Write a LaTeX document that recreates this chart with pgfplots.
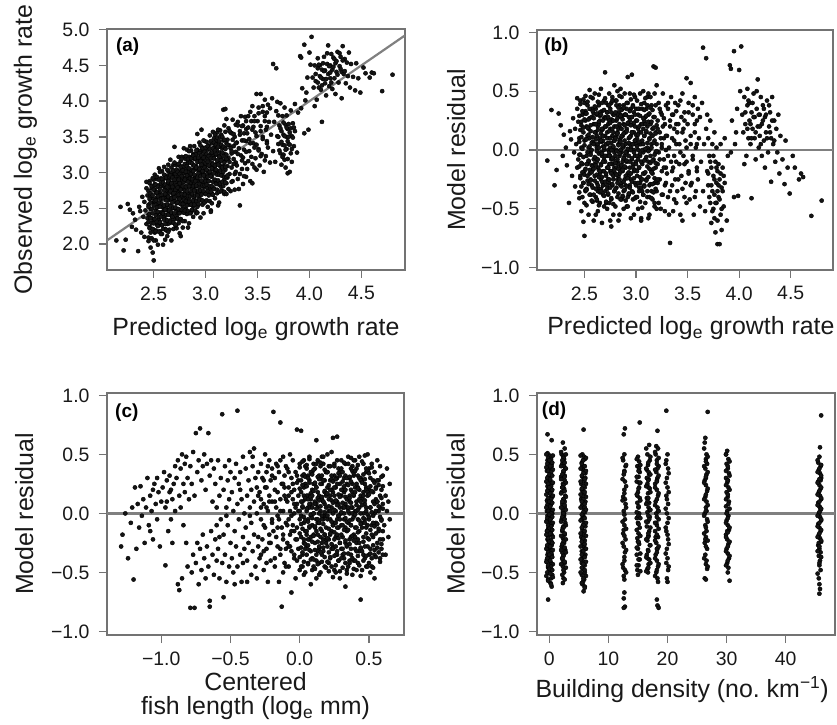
\documentclass[border=0pt]{standalone}
\usepackage{fontspec}
\setmainfont{Liberation Sans}
\usepackage{pgfplots}
\usepackage{pgfplotstable}
\pgfplotsset{compat=1.18}
\definecolor{frame}{gray}{0.45}
\definecolor{fitc}{gray}{0.5}
\definecolor{dot}{gray}{0.08}
\tikzset{tag/.style={anchor=north west, inner sep=0pt, font=\bfseries\fontsize{19}{19}\selectfont}}
\pgfplotsset{
 panel/.style={
  scale only axis,
  axis line style={draw=frame, line width=1.3bp},
  tick style={draw=frame, line width=1.3bp},
  tick align=outside, major tick length=8bp,
  tick pos=left,
  xticklabel shift=5bp, yticklabel shift=6bp,
  ticklabel style={font=\fontsize{19.5}{20}\selectfont, text=black!90},
  label style={font=\fontsize{25}{24}\selectfont, inner sep=0pt, text=black!90},
  xlabel style={at={(axis description cs:0.5,-0.27)}, anchor=base},
  ylabel style={at={(axis description cs:-0.25,0.5)}, anchor=base},
 },
 pts/.style={only marks, mark=*, mark size=2.1bp, mark options={draw=none, fill=dot}},
 zline/.style={fitc, line width=2.2bp},
}
\pgfplotstableread{
p r
2.14 -0.09
2.18 0.34
2.21 -0.30
2.23 -0.17
2.25 0.31
2.27 0.21
2.29 -0.05
2.30 0.13
2.32 0.02
2.33 -0.13
2.35 -0.45
2.36 0.16
2.37 0.09
2.38 -0.22
2.39 0.27
2.40 -0.02
2.41 0.18
2.41 -0.31
2.42 0.05
2.43 -0.15
2.43 0.35
2.44 -0.08
2.44 0.24
2.45 0.10
2.45 -0.41
2.46 -0.22
2.46 0.42
2.47 0.02
2.47 -0.52
2.48 0.30
2.48 -0.12
2.49 0.15
2.49 -0.28
2.45 -0.04
2.47 0.21
2.43 0.44
2.49 -0.61
2.50 -0.73
2.50 0.08
2.50 -0.18
2.51 0.33
2.51 -0.35
2.51 0.46
2.52 -0.05
2.52 0.20
2.52 -0.47
2.53 0.12
2.53 -0.26
2.53 0.38
2.54 -0.10
2.54 0.02
2.54 -0.55
2.55 0.27
2.55 -0.20
2.55 0.51
2.56 -0.02
2.56 -0.38
2.56 0.16
2.57 0.35
2.57 -0.13
2.57 -0.30
2.58 0.07
2.58 0.44
2.58 -0.44
2.59 -0.08
2.59 0.22
2.59 -0.60
2.55 0.10
2.53 -0.12
2.57 0.00
2.51 0.25
2.59 0.31
2.56 -0.25
2.52 -0.33
2.58 -0.17
2.54 0.18
2.50 0.40
2.60 0.05
2.60 -0.22
2.60 0.48
2.61 -0.40
2.61 0.15
2.61 -0.07
2.62 0.30
2.62 -0.28
2.62 0.02
2.63 -0.52
2.63 0.20
2.63 -0.15
2.64 0.38
2.64 -0.03
2.64 -0.33
2.65 0.10
2.65 -0.45
2.65 0.25
2.66 -0.12
2.66 0.52
2.66 -0.25
2.67 0.07
2.67 -0.62
2.67 0.33
2.68 -0.18
2.68 0.18
2.68 -0.38
2.69 0.00
2.69 0.42
2.69 -0.08
2.62 0.12
2.64 0.22
2.66 -0.02
2.68 -0.30
2.60 -0.12
2.63 0.05
2.65 -0.20
2.67 -0.05
2.69 0.27
2.61 0.35
2.62 -0.43
2.64 -0.17
2.66 0.14
2.68 0.08
2.60 0.22
2.63 -0.35
2.65 0.32
2.67 -0.27
2.69 -0.48
2.61 -0.55
2.64 0.47
2.66 -0.33
2.68 0.03
2.62 -0.10
2.67 0.17
2.70 0.66
2.70 -0.10
2.70 0.28
2.70 -0.35
2.71 0.05
2.71 -0.22
2.71 0.40
2.72 -0.05
2.72 0.15
2.72 -0.50
2.72 0.32
2.73 -0.15
2.73 0.00
2.73 -0.38
2.73 0.22
2.74 0.10
2.74 -0.28
2.74 0.48
2.74 -0.02
2.75 -0.60
2.75 0.18
2.75 -0.18
2.75 0.35
2.76 -0.08
2.76 0.06
2.76 -0.42
2.76 0.26
2.77 -0.30
2.77 0.12
2.77 -0.12
2.77 0.45
2.78 0.02
2.78 -0.25
2.78 0.30
2.78 -0.55
2.79 -0.02
2.79 0.20
2.79 -0.35
2.79 0.55
2.71 -0.45
2.72 -0.30
2.73 0.38
2.74 -0.12
2.75 0.02
2.76 0.40
2.77 -0.20
2.78 0.15
2.79 -0.15
2.70 0.12
2.71 0.20
2.72 0.05
2.73 -0.25
2.74 -0.45
2.75 -0.05
2.76 -0.18
2.77 0.25
2.78 -0.08
2.79 0.08
2.74 0.25
2.76 -0.65
2.80 0.10
2.80 -0.20
2.80 0.42
2.80 -0.48
2.81 0.00
2.81 0.25
2.81 -0.32
2.82 0.15
2.82 -0.10
2.82 0.50
2.82 -0.40
2.83 0.05
2.83 0.32
2.83 -0.22
2.84 -0.05
2.84 0.20
2.84 -0.55
2.84 0.38
2.85 -0.15
2.85 0.10
2.85 -0.30
2.86 0.28
2.86 -0.02
2.86 0.45
2.86 -0.42
2.87 0.12
2.87 -0.18
2.87 0.35
2.88 -0.08
2.88 0.22
2.88 -0.35
2.88 0.03
2.89 -0.25
2.89 0.15
2.89 0.48
2.81 0.12
2.82 -0.25
2.83 -0.12
2.84 0.08
2.85 0.30
2.86 -0.28
2.87 0.02
2.88 -0.50
2.89 -0.05
2.80 -0.05
2.81 -0.15
2.83 0.18
2.85 0.00
2.87 -0.40
2.89 0.30
2.82 0.30
2.84 -0.20
2.86 0.18
2.88 0.38
2.83 -0.60
2.85 0.52
2.87 -0.10
2.81 0.38
2.90 0.05
2.90 -0.30
2.90 0.30
2.91 -0.10
2.91 0.18
2.91 -0.48
2.92 0.62
2.92 0.00
2.92 -0.20
2.92 0.40
2.93 0.10
2.93 -0.38
2.93 -0.05
2.94 0.25
2.94 -0.15
2.94 0.48
2.95 -0.58
2.95 0.02
2.95 0.35
2.95 -0.25
2.96 0.15
2.96 -0.08
2.96 0.64
2.97 -0.42
2.97 0.22
2.97 0.05
2.98 -0.18
2.98 0.32
2.98 -0.55
2.99 0.08
2.99 -0.28
2.99 0.45
2.90 -0.15
2.91 0.35
2.93 0.22
2.94 -0.30
2.95 0.12
2.96 -0.35
2.97 -0.12
2.98 0.00
2.99 0.20
2.90 0.15
2.92 -0.40
2.94 0.05
2.96 0.28
2.98 0.15
2.91 -0.02
2.93 -0.22
2.97 0.38
2.99 -0.05
3.00 -0.10
3.00 0.25
3.00 -0.40
3.01 0.10
3.01 -0.22
3.01 0.42
3.02 0.00
3.02 -0.50
3.02 0.30
3.03 -0.15
3.03 0.15
3.03 -0.32
3.04 0.48
3.04 0.05
3.04 -0.05
3.05 -0.58
3.05 0.22
3.05 -0.25
3.06 0.35
3.06 -0.12
3.06 0.08
3.07 -0.38
3.07 0.18
3.07 -0.02
3.08 0.40
3.08 -0.20
3.08 0.12
3.09 -0.45
3.09 0.28
3.09 -0.08
3.00 0.05
3.02 0.18
3.04 -0.28
3.06 -0.35
3.08 -0.30
3.01 -0.05
3.03 0.35
3.05 0.05
3.07 0.50
3.09 0.00
3.05 -0.60
3.08 0.25
3.10 0.15
3.10 -0.25
3.11 0.02
3.11 0.45
3.11 -0.40
3.12 -0.10
3.12 0.30
3.13 0.10
3.13 -0.30
3.13 -0.55
3.14 0.22
3.14 -0.05
3.15 0.38
3.15 -0.18
3.15 0.05
3.16 -0.42
3.16 0.18
3.17 0.71
3.17 -0.08
3.17 0.28
3.18 -0.28
3.18 0.08
3.18 0.48
3.19 0.70
3.19 -0.15
3.19 0.15
3.10 0.35
3.12 -0.58
3.14 0.45
3.16 -0.20
3.18 -0.48
3.11 0.20
3.13 0.00
3.15 -0.35
3.19 -0.02
3.20 0.05
3.20 -0.35
3.21 0.25
3.21 -0.12
3.22 0.40
3.22 -0.02
3.23 -0.25
3.23 0.15
3.24 -0.50
3.24 0.32
3.25 0.02
3.25 -0.18
3.26 0.48
3.26 -0.38
3.27 0.10
3.27 -0.08
3.28 0.22
3.28 -0.30
3.29 0.00
3.29 0.38
3.20 0.55
3.22 -0.45
3.24 0.10
3.26 0.20
3.28 -0.52
3.21 -0.28
3.25 0.30
3.29 -0.15
3.30 0.12
3.30 -0.20
3.31 0.35
3.31 -0.40
3.32 0.02
3.33 -0.79
3.33 0.25
3.34 -0.10
3.34 0.45
3.35 -0.30
3.35 0.10
3.36 -0.52
3.36 0.30
3.37 -0.05
3.37 0.18
3.38 -0.25
3.38 0.40
3.39 0.05
3.39 -0.45
3.32 -0.55
3.36 -0.15
3.39 0.22
3.40 0.15
3.40 -0.35
3.41 0.38
3.42 -0.12
3.42 0.05
3.43 -0.55
3.44 0.28
3.44 -0.22
3.45 0.48
3.46 -0.05
3.46 0.18
3.47 -0.40
3.47 0.32
3.48 0.08
3.48 -0.28
3.49 0.61
3.49 -0.10
3.45 -0.60
3.50 0.22
3.51 -0.18
3.51 0.40
3.52 -0.42
3.53 0.05
3.53 0.57
3.54 -0.28
3.55 0.30
3.55 -0.05
3.56 -0.55
3.57 0.15
3.57 0.45
3.58 -0.35
3.58 0.02
3.59 0.25
3.59 -0.15
3.60 0.35
3.60 -0.25
3.61 0.10
3.62 -0.48
3.62 0.28
3.63 -0.10
3.64 0.40
3.65 0.87
3.65 -0.35
3.66 0.05
3.67 -0.52
3.68 0.78
3.68 0.18
3.69 -0.18
3.69 0.30
3.70 0.10
3.70 -0.30
3.71 -0.05
3.72 -0.45
3.72 0.25
3.73 -0.15
3.73 -0.62
3.74 0.05
3.74 -0.35
3.75 -0.22
3.75 -0.50
3.76 0.15
3.76 -0.38
3.77 -0.10
3.77 -0.70
3.78 -0.28
3.78 -0.45
3.79 -0.80
3.79 -0.18
3.78 0.02
3.76 -0.58
3.79 -0.35
3.80 -0.40
3.80 -0.12
3.81 -0.80
3.81 -0.25
3.82 -0.55
3.82 0.05
3.83 -0.32
3.83 -0.68
3.84 -0.15
3.85 -0.48
3.86 0.10
3.86 -0.28
3.88 -0.60
3.89 -0.05
3.91 0.72
3.92 0.69
3.95 0.84
3.93 0.25
3.92 -0.02
3.95 -0.40
3.97 0.15
3.99 -0.39
3.98 0.35
3.96 0.05
4.02 0.88
4.00 0.68
4.01 0.50
4.03 0.30
4.04 0.15
4.05 0.45
4.06 0.22
4.07 -0.05
4.08 0.38
4.09 0.10
4.05 -0.12
4.08 0.52
4.10 0.25
4.10 0.40
4.11 0.05
4.12 0.32
4.12 -0.41
4.13 0.18
4.14 0.48
4.15 0.10
4.15 0.28
4.16 -0.08
4.17 0.35
4.18 0.20
4.18 0.60
4.19 0.02
4.20 0.30
4.20 0.12
4.21 0.45
4.22 -0.05
4.22 0.22
4.23 0.38
4.24 0.08
4.25 -0.15
4.25 0.28
4.26 0.15
4.27 0.42
4.28 -0.02
4.29 0.20
4.31 -0.27
4.30 0.32
4.31 0.10
4.32 0.45
4.33 0.05
4.34 0.25
4.35 -0.10
4.36 0.18
4.37 -0.02
4.38 0.30
4.39 -0.20
4.40 0.12
4.42 -0.08
4.44 -0.29
4.45 0.08
4.47 -0.15
4.49 -0.37
4.52 -0.05
4.54 -0.15
4.58 -0.25
4.60 -0.20
4.62 -0.23
4.70 -0.56
4.80 -0.43
2.45 -0.36
2.45 -0.14
2.45 0.07
2.45 0.29
2.46 -0.24
2.46 -0.04
2.46 0.17
2.46 0.39
2.47 -0.31
2.47 -0.11
2.47 0.11
2.47 0.24
2.48 -0.40
2.48 -0.19
2.48 0.01
2.48 0.33
2.49 -0.28
2.49 -0.06
2.49 0.19
2.49 0.43
2.50 -0.21
2.50 0.04
2.50 0.26
2.50 -0.45
2.51 -0.34
2.51 -0.16
2.51 0.09
2.51 0.31
2.52 -0.34
2.52 -0.12
2.52 0.09
2.52 0.31
2.53 -0.22
2.53 -0.02
2.53 0.19
2.53 0.41
2.54 -0.29
2.54 -0.09
2.54 0.13
2.54 0.26
2.55 -0.38
2.55 -0.17
2.55 0.03
2.55 0.35
2.56 -0.26
2.56 -0.04
2.56 0.21
2.56 0.45
2.57 -0.19
2.57 0.06
2.57 0.28
2.57 -0.43
2.58 -0.32
2.58 -0.14
2.58 0.11
2.58 0.33
2.59 -0.38
2.59 -0.16
2.59 0.05
2.59 0.27
2.60 -0.26
2.60 -0.06
2.60 0.15
2.60 0.37
2.61 -0.33
2.61 -0.13
2.61 0.09
2.61 0.22
2.62 -0.42
2.62 -0.21
2.62 -0.01
2.62 0.31
2.63 -0.30
2.63 -0.08
2.63 0.17
2.63 0.41
2.64 -0.23
2.64 0.02
2.64 0.24
2.64 -0.47
2.65 -0.36
2.65 -0.18
2.65 0.07
2.65 0.29
2.66 -0.35
2.66 -0.13
2.66 0.08
2.66 0.30
2.67 -0.23
2.67 -0.03
2.67 0.18
2.67 0.40
2.68 -0.30
2.68 -0.10
2.68 0.12
2.68 0.25
2.69 -0.39
2.69 -0.18
2.69 0.02
2.69 0.34
2.70 -0.27
2.70 -0.05
2.70 0.20
2.70 0.44
2.71 -0.20
2.71 0.05
2.71 0.27
2.71 -0.44
2.72 -0.33
2.72 -0.15
2.72 0.10
2.72 0.32
2.73 -0.37
2.73 -0.15
2.73 0.06
2.73 0.28
2.74 -0.25
2.74 -0.05
2.74 0.16
2.74 0.38
2.75 -0.32
2.75 -0.12
2.75 0.10
2.75 0.23
2.76 -0.41
2.76 -0.20
2.76 0.00
2.76 0.32
2.77 -0.29
2.77 -0.07
2.77 0.18
2.77 0.42
2.78 -0.22
2.78 0.03
2.78 0.25
2.78 -0.46
2.79 -0.35
2.79 -0.17
2.79 0.08
2.79 0.30
2.80 -0.33
2.80 -0.11
2.80 0.10
2.80 0.32
2.81 -0.21
2.81 -0.01
2.81 0.20
2.81 0.42
2.82 -0.28
2.82 -0.08
2.82 0.14
2.82 0.27
2.83 -0.37
2.83 -0.16
2.83 0.04
2.83 0.36
2.84 -0.25
2.84 -0.03
2.84 0.22
2.84 0.46
2.85 -0.18
2.85 0.07
2.85 0.29
2.85 -0.42
2.86 -0.31
2.86 -0.13
2.86 0.12
2.86 0.34
2.87 -0.39
2.87 -0.17
2.87 0.04
2.87 0.26
2.88 -0.27
2.88 -0.07
2.88 0.14
2.88 0.36
2.89 -0.34
2.89 -0.14
2.89 0.08
2.89 0.21
2.90 -0.43
2.90 -0.22
2.90 -0.02
2.90 0.30
2.91 -0.31
2.91 -0.09
2.91 0.16
2.91 0.40
2.92 -0.24
2.92 0.01
2.92 0.23
2.92 -0.48
2.93 -0.37
2.93 -0.19
2.93 0.06
2.93 0.28
2.94 -0.32
2.94 -0.10
2.94 0.11
2.94 0.33
2.95 -0.20
2.95 0.00
2.95 0.21
2.95 0.43
2.96 -0.27
2.96 -0.07
2.96 0.15
2.96 0.28
2.97 -0.36
2.97 -0.15
2.97 0.05
2.97 0.37
2.98 -0.24
2.98 -0.02
2.98 0.23
2.98 0.47
2.99 -0.17
2.99 0.08
2.99 0.30
2.99 -0.41
3.00 -0.30
3.00 -0.12
3.00 0.13
3.00 0.35
3.01 -0.40
3.01 -0.18
3.01 0.03
3.01 0.25
3.02 -0.28
3.02 -0.08
3.02 0.13
3.02 0.35
3.03 -0.35
3.03 -0.15
3.03 0.07
3.03 0.20
3.04 -0.44
3.04 -0.23
3.04 -0.03
3.04 0.29
3.05 -0.32
3.05 -0.10
3.05 0.15
3.05 0.39
3.06 -0.25
3.06 0.00
3.06 0.22
3.06 -0.49
3.07 -0.38
3.07 -0.20
3.07 0.05
3.07 0.27
3.08 -0.31
3.08 -0.09
3.08 0.12
3.08 0.34
3.09 -0.19
3.09 0.01
3.09 0.22
3.09 0.44
3.10 -0.26
3.10 -0.06
3.10 0.16
3.10 0.29
3.11 -0.35
3.11 -0.14
3.11 0.06
3.11 0.38
3.12 -0.23
3.12 -0.01
3.12 0.24
3.12 0.48
3.13 -0.16
3.13 0.09
3.13 0.31
3.13 -0.40
3.14 -0.29
3.14 -0.11
3.14 0.14
3.14 0.36
3.15 -0.41
3.15 -0.19
3.15 0.02
3.15 0.24
3.16 -0.29
3.16 -0.09
3.16 0.12
3.16 0.34
3.17 -0.36
3.17 -0.16
3.17 0.06
3.17 0.19
3.18 -0.45
3.18 -0.24
3.18 -0.04
3.18 0.28
3.19 -0.33
3.19 -0.11
3.19 0.14
3.19 0.38
3.20 -0.26
3.20 -0.01
3.20 0.21
3.20 -0.50
3.21 -0.25
3.21 0.18
3.23 -0.08
3.23 0.35
3.25 -0.38
3.25 0.05
3.27 -0.15
3.27 0.27
3.29 -0.28
3.29 0.12
3.31 -0.05
3.31 0.40
3.33 -0.35
3.33 0.20
3.35 -0.18
3.35 0.30
3.37 -0.42
3.37 0.08
3.39 -0.10
3.39 0.33
3.41 -0.25
3.41 0.22
3.43 -0.02
3.43 0.42
3.45 -0.33
3.45 0.15
3.47 -0.12
3.47 0.25
3.49 -0.45
3.49 0.02
3.51 -0.20
3.51 0.32
3.53 -0.30
3.53 0.12
3.55 -0.08
3.55 0.38
3.57 -0.40
3.57 0.22
3.59 -0.18
3.59 0.05
3.70 -0.20
3.71 -0.40
3.72 -0.10
3.73 -0.30
3.74 -0.52
3.75 -0.05
3.76 -0.25
3.77 -0.45
3.78 -0.15
3.79 -0.60
3.80 -0.30
3.81 -0.42
3.82 -0.20
3.83 -0.50
3.84 -0.35
3.85 -0.22
4.06 0.32
4.08 0.18
4.09 0.42
4.11 0.22
4.12 0.10
4.13 0.40
4.14 0.28
4.16 0.15
4.17 0.50
4.19 0.30
4.20 0.20
4.21 0.05
4.23 0.25
4.24 0.35
4.26 0.30
4.27 0.10
4.29 0.38
4.30 0.15
4.32 0.25
4.34 0.08
}\pr
\pgfplotstableread{
L r
-1.29 -0.28
-1.28 -0.18
-1.26 0.00
-1.24 -0.38
-1.22 -0.08
-1.21 0.05
-1.20 -0.56
-1.19 0.22
-1.18 -0.30
-1.17 0.08
-1.16 -0.12
-1.15 0.23
-1.14 -0.02
-1.13 0.12
-1.12 -0.25
-1.11 0.05
-1.10 0.30
-1.09 -0.10
-1.08 0.15
-1.07 0.02
-1.06 -0.22
-1.05 0.25
-1.04 0.08
-1.03 -0.05
-1.02 0.18
-1.01 -0.28
-1.00 0.10
-1.06 0.20
-1.03 0.30
-1.08 -0.15
-0.99 0.22
-0.98 0.35
-0.97 -0.44
-0.97 0.05
-0.96 0.28
-0.95 -0.15
-0.94 0.18
-0.94 0.32
-0.93 -0.05
-0.92 0.12
-0.92 -0.25
-0.91 0.25
-0.90 0.02
-0.90 0.40
-0.96 0.10
-0.93 0.20
-0.89 0.30
-0.88 0.45
-0.88 -0.60
-0.87 0.15
-0.87 -0.65
-0.86 0.38
-0.86 0.05
-0.85 0.50
-0.85 -0.55
-0.84 0.25
-0.84 -0.10
-0.83 0.42
-0.83 0.18
-0.82 0.48
-0.82 -0.25
-0.81 0.30
-0.81 -0.45
-0.80 0.12
-0.79 -0.80
-0.79 0.40
-0.78 -0.50
-0.78 0.25
-0.77 0.52
-0.77 -0.35
-0.76 -0.80
-0.76 0.15
-0.75 0.68
-0.75 -0.42
-0.74 0.35
-0.74 -0.25
-0.73 0.45
-0.73 -0.60
-0.72 0.72
-0.72 -0.30
-0.71 0.28
-0.71 -0.48
-0.70 0.40
-0.70 -0.18
-0.69 0.50
-0.69 -0.38
-0.68 0.20
-0.68 -0.55
-0.67 0.42
-0.67 -0.28
-0.66 0.68
-0.66 -0.45
-0.65 -0.79
-0.65 -0.74
-0.65 0.32
-0.64 -0.15
-0.64 0.45
-0.63 -0.35
-0.63 0.10
-0.62 -0.52
-0.62 0.38
-0.61 -0.22
-0.61 0.25
-0.60 -0.40
-0.60 0.05
-0.60 -0.10
-0.59 0.45
-0.59 -0.30
-0.58 0.15
-0.58 -0.55
-0.57 -0.05
-0.57 0.30
-0.56 0.84
-0.56 -0.42
-0.55 -0.71
-0.55 0.20
-0.55 -0.18
-0.54 0.40
-0.54 -0.35
-0.53 0.05
-0.53 -0.58
-0.52 0.28
-0.52 -0.10
-0.51 -0.45
-0.51 0.12
-0.50 0.35
-0.50 -0.25
-0.58 -0.20
-0.53 -0.02
-0.51 0.45
-0.49 -0.38
-0.49 0.18
-0.48 0.02
-0.48 -0.50
-0.47 0.30
-0.47 -0.15
-0.46 0.42
-0.46 -0.28
-0.45 0.87
-0.45 0.08
-0.45 -0.45
-0.44 0.25
-0.44 -0.05
-0.43 -0.35
-0.43 0.35
-0.42 0.12
-0.42 -0.58
-0.41 -0.20
-0.41 0.48
-0.40 0.00
-0.40 -0.30
-0.47 -0.60
-0.43 0.20
-0.41 -0.42
-0.39 0.38
-0.39 -0.12
-0.38 0.15
-0.38 -0.40
-0.37 0.28
-0.37 -0.25
-0.36 0.05
-0.36 0.52
-0.35 -0.52
-0.35 0.20
-0.35 -0.08
-0.34 0.40
-0.34 -0.32
-0.33 0.10
-0.33 0.55
-0.33 -0.18
-0.32 0.30
-0.32 -0.45
-0.31 0.00
-0.31 0.22
-0.30 -0.28
-0.30 0.35
-0.38 -0.58
-0.36 -0.02
-0.34 0.48
-0.31 -0.55
-0.29 0.18
-0.29 -0.38
-0.28 0.42
-0.28 -0.05
-0.27 0.30
-0.27 -0.22
-0.26 0.08
-0.26 -0.48
-0.25 0.50
-0.25 -0.12
-0.25 0.22
-0.24 -0.30
-0.24 0.35
-0.23 0.02
-0.23 -0.58
-0.22 0.15
-0.22 -0.18
-0.22 0.45
-0.21 -0.40
-0.21 0.28
-0.20 -0.08
-0.20 0.38
-0.28 0.12
-0.26 -0.32
-0.24 0.05
-0.23 0.40
-0.21 -0.25
-0.20 0.10
-0.19 0.86
-0.19 -0.15
-0.18 0.30
-0.18 -0.45
-0.17 0.05
-0.17 0.42
-0.16 -0.28
-0.16 0.18
-0.15 -0.05
-0.15 -0.58
-0.15 0.35
-0.14 0.77
-0.14 0.12
-0.14 -0.35
-0.13 -0.79
-0.13 0.25
-0.13 -0.12
-0.12 0.48
-0.12 -0.22
-0.12 0.02
-0.11 0.32
-0.11 -0.42
-0.11 0.15
-0.10 -0.08
-0.10 0.40
-0.10 -0.30
-0.18 0.10
-0.16 -0.02
-0.14 0.45
-0.12 -0.50
-0.17 -0.20
-0.11 0.22
-0.09 0.10
-0.09 -0.25
-0.09 0.38
-0.08 -0.05
-0.08 0.22
-0.08 -0.45
-0.07 0.50
-0.07 0.02
-0.07 -0.18
-0.06 -0.67
-0.06 0.30
-0.06 -0.32
-0.05 0.12
-0.05 -0.10
-0.05 0.45
-0.04 -0.38
-0.04 0.20
-0.04 0.00
-0.03 -0.22
-0.03 0.35
-0.03 -0.55
-0.02 0.71
-0.02 0.08
-0.02 -0.12
-0.01 0.28
-0.01 -0.30
-0.01 0.15
0.00 -0.05
0.00 0.42
0.00 -0.48
-0.08 0.15
-0.07 -0.28
-0.05 0.25
-0.04 -0.15
-0.03 0.05
-0.02 -0.40
-0.01 0.02
-0.09 -0.10
-0.06 -0.02
-0.02 0.32
0.01 0.70
0.01 0.18
0.01 -0.20
0.02 0.05
0.02 -0.35
0.02 0.32
0.03 -0.08
0.03 0.45
0.03 -0.52
0.04 0.12
0.04 -0.15
0.04 0.25
0.05 -0.28
0.05 0.02
0.05 0.38
0.06 -0.42
0.06 0.15
0.06 -0.05
0.07 0.28
0.07 -0.22
0.07 0.48
0.08 0.08
0.08 -0.32
0.08 -0.60
0.09 0.20
0.09 -0.10
0.09 0.35
0.10 -0.18
0.10 0.00
0.10 0.42
0.01 -0.02
0.02 -0.45
0.03 0.22
0.04 -0.30
0.05 0.15
0.06 0.32
0.07 -0.12
0.08 0.12
0.09 -0.38
0.10 0.25
0.02 0.10
0.04 0.40
0.05 -0.18
0.06 0.05
0.07 0.05
0.08 -0.02
0.09 0.05
0.03 -0.25
0.06 -0.22
0.10 -0.45
0.11 0.10
0.11 -0.25
0.11 0.38
0.12 0.62
0.12 -0.05
0.12 -0.40
0.12 0.22
0.13 0.05
0.13 -0.18
0.13 0.45
0.14 -0.30
0.14 0.15
0.14 -0.08
0.15 0.30
0.15 -0.50
0.15 0.02
0.16 -0.15
0.16 0.25
0.16 -0.35
0.17 0.10
0.17 0.42
0.17 -0.22
0.18 -0.02
0.18 0.18
0.18 -0.45
0.19 0.35
0.19 -0.12
0.19 0.05
0.20 -0.28
0.20 0.22
0.20 0.50
0.11 -0.12
0.12 0.08
0.13 -0.32
0.14 0.32
0.15 -0.20
0.16 0.12
0.17 -0.05
0.18 0.28
0.19 -0.25
0.20 -0.05
0.11 0.25
0.13 0.18
0.14 -0.42
0.15 0.40
0.16 -0.02
0.17 -0.32
0.18 0.08
0.19 0.15
0.20 0.35
0.12 -0.55
0.14 0.00
0.16 0.48
0.18 -0.18
0.13 -0.08
0.21 0.12
0.21 -0.22
0.21 0.40
0.22 -0.05
0.22 0.28
0.22 -0.38
0.23 0.05
0.23 -0.15
0.23 0.52
0.24 0.64
0.24 -0.28
0.24 0.18
0.25 -0.08
0.25 0.32
0.25 -0.48
0.26 0.02
0.26 0.22
0.26 -0.20
0.27 0.65
0.27 -0.35
0.27 0.10
0.28 -0.12
0.28 0.38
0.28 -0.02
0.29 0.25
0.29 -0.25
0.29 -0.55
0.30 0.15
0.30 -0.10
0.30 0.45
0.21 0.02
0.22 0.15
0.23 -0.30
0.24 0.00
0.25 0.15
0.26 -0.35
0.27 0.30
0.28 0.08
0.29 0.05
0.30 -0.30
0.21 -0.42
0.22 -0.18
0.23 0.32
0.24 -0.10
0.25 0.42
0.26 0.10
0.27 -0.05
0.28 -0.40
0.29 0.35
0.30 0.00
0.23 0.20
0.25 -0.22
0.27 -0.18
0.29 0.15
0.26 -0.50
0.31 0.05
0.31 -0.20
0.31 0.35
0.32 -0.38
0.32 0.18
0.32 -0.05
0.33 -0.62
0.33 0.42
0.33 0.08
0.34 -0.15
0.34 0.25
0.34 -0.28
0.35 0.12
0.35 -0.45
0.35 0.48
0.36 0.00
0.36 -0.22
0.36 0.30
0.37 -0.10
0.37 0.20
0.37 -0.35
0.38 0.40
0.38 0.05
0.38 -0.52
0.39 -0.18
0.39 0.15
0.39 0.32
0.40 -0.30
0.40 0.02
0.40 0.45
0.31 0.20
0.32 0.30
0.33 -0.25
0.34 0.05
0.35 -0.08
0.36 0.15
0.37 0.38
0.38 -0.05
0.39 -0.40
0.40 0.22
0.31 -0.35
0.32 0.00
0.33 0.20
0.34 -0.48
0.35 0.30
0.36 -0.40
0.37 0.05
0.38 0.25
0.39 0.00
0.40 -0.12
0.33 -0.12
0.35 0.02
0.37 -0.20
0.39 0.45
0.36 0.10
0.41 0.10
0.41 -0.25
0.41 0.38
0.42 -0.05
0.42 0.22
0.42 -0.42
0.43 0.05
0.43 -0.15
0.43 0.48
0.44 -0.73
0.44 0.30
0.44 -0.30
0.45 0.12
0.45 -0.08
0.45 -0.48
0.46 0.42
0.46 0.00
0.46 -0.20
0.47 0.25
0.47 -0.38
0.47 0.08
0.48 -0.12
0.48 0.35
0.48 -0.45
0.49 0.15
0.49 -0.28
0.49 0.50
0.50 -0.05
0.50 0.20
0.50 -0.35
0.41 0.02
0.42 0.32
0.43 -0.32
0.44 0.15
0.45 0.28
0.46 -0.35
0.47 -0.05
0.48 0.05
0.49 -0.10
0.50 0.38
0.42 -0.22
0.44 0.00
0.46 0.18
0.48 0.22
0.43 0.20
0.51 0.05
0.51 -0.30
0.51 0.30
0.52 -0.10
0.52 0.42
0.52 -0.45
0.53 0.18
0.53 -0.20
0.54 0.00
0.54 0.35
0.54 -0.35
0.55 -0.08
0.55 0.22
0.56 -0.25
0.56 0.10
0.56 0.45
0.57 -0.15
0.57 0.28
0.58 0.05
0.58 -0.38
0.59 0.20
0.59 -0.05
0.60 0.32
0.60 -0.22
0.53 -0.02
0.55 0.12
0.57 0.02
0.59 -0.30
0.58 0.40
0.60 0.08
0.61 -0.10
0.62 0.15
0.62 -0.35
0.63 0.38
0.63 0.02
0.64 -0.20
0.65 0.25
0.65 -0.05
0.64 0.10
0.00 -0.37
0.00 -0.17
0.00 0.02
0.00 0.21
0.00 0.39
0.01 -0.29
0.01 -0.09
0.01 0.10
0.01 0.28
0.01 -0.45
0.02 -0.33
0.02 -0.13
0.02 0.06
0.02 0.24
0.02 0.44
0.03 -0.41
0.03 -0.22
0.03 -0.03
0.03 0.15
0.03 0.33
0.04 -0.26
0.04 -0.06
0.04 0.13
0.04 0.31
0.04 -0.50
0.05 -0.35
0.05 -0.15
0.05 0.04
0.05 0.23
0.05 0.41
0.06 -0.27
0.06 -0.07
0.06 0.12
0.06 0.30
0.06 -0.43
0.07 -0.31
0.07 -0.11
0.07 0.08
0.07 0.26
0.07 0.46
0.08 -0.39
0.08 -0.20
0.08 -0.01
0.08 0.17
0.08 0.35
0.09 -0.24
0.09 -0.04
0.09 0.15
0.09 0.33
0.09 -0.48
0.10 -0.39
0.10 -0.19
0.10 0.00
0.10 0.19
0.10 0.37
0.11 -0.31
0.11 -0.11
0.11 0.08
0.11 0.26
0.11 -0.47
0.12 -0.35
0.12 -0.15
0.12 0.04
0.12 0.22
0.12 0.42
0.13 -0.43
0.13 -0.24
0.13 -0.05
0.13 0.13
0.13 0.31
0.14 -0.28
0.14 -0.08
0.14 0.11
0.14 0.29
0.14 -0.52
0.15 -0.33
0.15 -0.13
0.15 0.06
0.15 0.25
0.15 0.43
0.16 -0.25
0.16 -0.05
0.16 0.14
0.16 0.32
0.16 -0.41
0.17 -0.29
0.17 -0.09
0.17 0.10
0.17 0.28
0.17 0.48
0.18 -0.37
0.18 -0.18
0.18 0.01
0.18 0.19
0.18 0.37
0.19 -0.22
0.19 -0.02
0.19 0.17
0.19 0.35
0.19 -0.46
0.20 -0.41
0.20 -0.21
0.20 -0.02
0.20 0.17
0.20 0.35
0.21 -0.33
0.21 -0.13
0.21 0.06
0.21 0.24
0.21 -0.49
0.22 -0.37
0.22 -0.17
0.22 0.02
0.22 0.20
0.22 0.40
0.23 -0.45
0.23 -0.26
0.23 -0.07
0.23 0.11
0.23 0.29
0.24 -0.30
0.24 -0.10
0.24 0.09
0.24 0.27
0.24 -0.54
0.25 -0.36
0.25 -0.16
0.25 0.03
0.25 0.22
0.25 0.40
0.26 -0.28
0.26 -0.08
0.26 0.11
0.26 0.29
0.26 -0.44
0.27 -0.32
0.27 -0.12
0.27 0.07
0.27 0.25
0.27 0.45
0.28 -0.40
0.28 -0.21
0.28 -0.02
0.28 0.16
0.28 0.34
0.29 -0.25
0.29 -0.05
0.29 0.14
0.29 0.32
0.29 -0.49
0.30 -0.38
0.30 -0.18
0.30 0.01
0.30 0.20
0.30 0.38
0.31 -0.30
0.31 -0.10
0.31 0.09
0.31 0.27
0.31 -0.46
0.32 -0.34
0.32 -0.14
0.32 0.05
0.32 0.23
0.32 0.43
0.33 -0.42
0.33 -0.23
0.33 -0.04
0.33 0.14
0.33 0.32
0.34 -0.27
0.34 -0.07
0.34 0.12
0.34 0.30
0.34 -0.51
0.35 -0.34
0.35 -0.14
0.35 0.05
0.35 0.24
0.35 0.42
0.36 -0.26
0.36 -0.06
0.36 0.13
0.36 0.31
0.36 -0.42
0.37 -0.30
0.37 -0.10
0.37 0.09
0.37 0.27
0.37 0.47
0.38 -0.38
0.38 -0.19
0.38 0.00
0.38 0.18
0.38 0.36
0.39 -0.23
0.39 -0.03
0.39 0.16
0.39 0.34
0.39 -0.47
0.40 -0.40
0.40 -0.20
0.40 -0.01
0.40 0.18
0.40 0.36
0.41 -0.32
0.41 -0.12
0.41 0.07
0.41 0.25
0.41 -0.48
0.42 -0.36
0.42 -0.16
0.42 0.03
0.42 0.21
0.42 0.41
0.43 -0.44
0.43 -0.25
0.43 -0.06
0.43 0.12
0.43 0.30
0.44 -0.29
0.44 -0.09
0.44 0.10
0.44 0.28
0.44 -0.53
0.45 -0.32
0.45 -0.12
0.45 0.07
0.45 0.26
0.45 0.44
0.46 -0.24
0.46 -0.04
0.46 0.15
0.46 0.33
0.46 -0.40
0.47 -0.28
0.47 -0.08
0.47 0.11
0.47 0.29
0.47 0.49
0.48 -0.36
0.48 -0.17
0.48 0.02
0.48 0.20
0.48 0.38
0.49 -0.21
0.49 -0.01
0.49 0.18
0.49 0.36
0.49 -0.45
0.50 -0.42
0.50 -0.22
0.50 -0.03
0.50 0.16
0.50 0.34
0.51 -0.34
0.51 -0.14
0.51 0.05
0.51 0.23
0.51 -0.50
0.52 -0.38
0.52 -0.18
0.52 0.01
0.52 0.19
0.52 0.39
0.53 -0.46
0.53 -0.27
0.53 -0.08
0.53 0.10
0.53 0.28
0.54 -0.31
0.54 -0.11
0.54 0.08
0.54 0.26
0.54 -0.55
0.55 -0.37
0.55 -0.17
0.55 0.02
0.55 0.21
0.56 -0.29
0.56 -0.09
0.56 0.10
0.56 0.28
0.57 -0.33
0.57 -0.13
0.57 0.06
0.57 0.24
0.58 -0.41
0.58 -0.22
0.58 -0.03
0.58 0.15
0.59 -0.26
0.59 -0.06
0.59 0.13
0.59 0.31
0.60 -0.35
0.60 -0.15
0.60 0.04
0.60 0.23
-0.30 -0.20
-0.30 0.15
-0.28 -0.35
-0.28 0.05
-0.26 -0.10
-0.26 0.28
-0.24 -0.42
-0.24 0.22
-0.22 -0.25
-0.22 0.10
-0.20 -0.05
-0.20 0.32
-0.18 -0.38
-0.18 0.20
-0.16 -0.12
-0.16 0.40
-0.14 -0.30
-0.14 0.02
-0.12 -0.18
-0.12 0.25
-0.10 -0.45
-0.10 0.12
-0.08 -0.28
-0.08 0.35
-0.06 -0.15
-0.06 0.18
-0.04 -0.35
-0.04 0.08
-0.02 -0.22
-0.02 0.26
}\lr
\pgfplotstableread{
b r
-0.3 0.51
0.2 0.47
-0.1 0.44
0.4 0.42
0.0 0.38
-0.4 0.36
0.3 0.33
-0.2 0.31
0.1 0.28
0.5 0.26
-0.3 0.23
0.2 0.21
-0.1 0.18
0.4 0.15
0.0 0.13
-0.4 0.11
0.3 0.08
-0.2 0.05
0.1 0.03
0.5 0.00
-0.3 -0.02
0.2 -0.05
-0.1 -0.07
0.4 -0.10
0.0 -0.12
-0.4 -0.15
0.3 -0.17
-0.2 -0.20
0.1 -0.23
0.5 -0.25
-0.3 -0.28
0.2 -0.30
-0.1 -0.33
0.4 -0.35
0.0 -0.38
-0.4 -0.41
0.3 -0.43
-0.2 -0.46
0.1 -0.49
0.5 -0.52
-0.2 -0.56
0.2 -0.59
0.4 -0.62
-0.3 0.67
0.4 0.62
-0.2 -0.73
0.1 0.49
-0.3 0.45
0.4 0.40
-0.1 0.37
0.2 0.34
0.0 0.30
-0.4 0.27
0.3 0.24
-0.2 0.20
0.1 0.17
0.5 0.14
-0.3 0.10
0.2 0.07
-0.1 0.04
0.4 0.01
0.0 -0.03
-0.4 -0.06
0.3 -0.09
-0.2 -0.13
0.1 -0.16
0.5 -0.19
-0.3 -0.22
0.2 -0.26
-0.1 -0.29
0.4 -0.32
0.0 -0.36
-0.4 -0.39
0.3 -0.42
-0.2 -0.45
0.1 -0.48
0.3 -0.55
0.0 0.48
0.3 0.43
-0.2 0.25
0.4 0.19
-0.4 0.02
0.2 -0.11
-0.1 -0.24
0.4 -0.27
0.0 -0.50
-0.3 -0.35
-0.5 0.50
0.6 0.49
-0.2 0.47
0.3 0.46
0.0 0.45
0.5 0.43
-0.35 0.42
0.15 0.40
-0.5 0.39
0.6 0.37
-0.2 0.36
0.3 0.35
0.0 0.33
0.5 0.32
-0.35 0.30
0.15 0.29
-0.5 0.27
0.6 0.26
-0.2 0.25
0.3 0.23
0.0 0.22
0.5 0.20
-0.35 0.19
0.15 0.17
-0.5 0.16
0.6 0.15
-0.2 0.13
0.3 0.12
0.0 0.10
0.5 0.09
-0.35 0.07
0.15 0.06
-0.5 0.05
0.6 0.03
-0.2 0.02
0.3 0.00
0.0 -0.01
0.5 -0.03
-0.35 -0.04
0.15 -0.05
-0.5 -0.07
0.6 -0.08
-0.2 -0.10
0.3 -0.11
0.0 -0.13
0.5 -0.14
-0.35 -0.15
0.15 -0.17
-0.5 -0.18
0.6 -0.20
-0.2 -0.21
0.3 -0.23
0.0 -0.24
0.5 -0.25
-0.35 -0.27
0.15 -0.28
-0.5 -0.30
0.6 -0.31
-0.2 -0.33
0.3 -0.34
0.0 -0.35
0.5 -0.37
-0.35 -0.38
0.15 -0.40
-0.5 -0.41
0.6 -0.43
-0.2 -0.44
0.3 -0.45
0.0 -0.47
0.5 -0.48
-0.35 -0.50
0.15 -0.51
-0.5 -0.53
0.6 -0.54
-0.2 -0.57
0.3 -0.60
2.3 0.60
2.6 0.55
2.1 0.50
2.5 0.46
2.2 0.42
2.7 0.38
2.4 0.35
2.0 0.31
2.6 0.28
2.3 0.25
2.5 0.21
2.1 0.18
2.7 0.15
2.4 0.12
2.2 0.08
2.6 0.05
2.3 0.02
2.5 -0.02
2.1 -0.05
2.7 -0.08
2.4 -0.11
2.2 -0.15
2.6 -0.18
2.3 -0.21
2.5 -0.25
2.1 -0.28
2.7 -0.31
2.4 -0.35
2.2 -0.38
2.6 -0.42
2.3 -0.45
2.5 -0.50
2.4 -0.55
2.3 -0.59
2.5 0.40
2.2 0.22
2.6 0.10
2.4 -0.01
2.3 -0.12
2.5 -0.23
2.2 -0.33
2.6 0.32
2.4 0.48
2.3 -0.40
2.5 0.00
2.0 0.52
2.8 0.50
2.4 0.47
2.2 0.45
2.6 0.43
2.0 0.40
2.8 0.38
2.4 0.36
2.2 0.33
2.6 0.31
2.0 0.29
2.8 0.26
2.4 0.24
2.2 0.22
2.6 0.19
2.0 0.17
2.8 0.14
2.4 0.12
2.2 0.10
2.6 0.07
2.0 0.05
2.8 0.03
2.4 0.00
2.2 -0.03
2.6 -0.05
2.0 -0.07
2.8 -0.10
2.4 -0.12
2.2 -0.14
2.6 -0.17
2.0 -0.19
2.8 -0.22
2.4 -0.24
2.2 -0.26
2.6 -0.29
2.0 -0.31
2.8 -0.33
2.4 -0.36
2.2 -0.38
2.6 -0.41
2.0 -0.43
2.8 -0.46
2.4 -0.48
2.2 -0.52
2.6 -0.56
5.8 0.71
5.6 0.50
6.0 0.46
5.5 0.43
5.9 0.40
5.7 0.37
6.1 0.34
5.6 0.31
5.8 0.28
5.4 0.25
6.0 0.22
5.7 0.19
5.9 0.16
5.5 0.13
6.1 0.10
5.6 0.07
5.8 0.04
6.0 0.01
5.7 -0.02
5.5 -0.05
5.9 -0.08
6.1 -0.11
5.6 -0.14
5.8 -0.17
5.4 -0.20
6.0 -0.23
5.7 -0.26
5.9 -0.29
5.5 -0.32
6.1 -0.35
5.6 -0.38
5.8 -0.41
6.0 -0.44
5.7 -0.47
5.5 -0.52
5.9 -0.56
5.6 -0.60
6.0 -0.62
5.8 -0.66
5.7 0.45
5.9 0.35
5.5 0.20
6.0 0.05
5.8 -0.03
5.6 -0.22
6.1 -0.30
5.7 -0.10
5.9 0.27
5.4 0.12
5.8 -0.36
6.0 -0.50
5.6 0.40
5.7 0.09
5.9 -0.18
5.5 -0.42
5.8 0.18
6.1 0.30
5.6 -0.05
5.7 -0.58
5.9 0.48
5.3 0.49
6.2 0.47
5.75 0.45
5.5 0.42
6.0 0.40
5.3 0.38
6.2 0.36
5.75 0.34
5.5 0.32
6.0 0.29
5.3 0.27
6.2 0.25
5.75 0.23
5.5 0.21
6.0 0.18
5.3 0.16
6.2 0.14
5.75 0.12
5.5 0.10
6.0 0.08
5.3 0.05
6.2 0.03
5.75 0.01
5.5 -0.01
6.0 -0.04
5.3 -0.06
6.2 -0.08
5.75 -0.10
5.5 -0.12
6.0 -0.15
5.3 -0.17
6.2 -0.19
5.75 -0.21
5.5 -0.24
6.0 -0.26
5.3 -0.28
6.2 -0.30
5.75 -0.32
5.5 -0.35
6.0 -0.37
5.3 -0.39
6.2 -0.41
5.75 -0.43
5.5 -0.46
6.0 -0.48
5.3 -0.50
6.2 -0.53
5.75 -0.55
5.5 -0.59
6.0 -0.63
12.8 0.72
12.6 0.67
12.7 0.50
12.5 0.45
12.9 0.40
12.6 0.33
12.8 0.27
12.7 0.20
12.5 0.14
12.9 0.08
12.6 0.02
12.8 -0.05
12.7 -0.10
12.5 -0.17
12.9 -0.22
12.6 -0.28
12.8 -0.33
12.7 -0.40
12.5 -0.46
12.6 -0.53
12.7 -0.67
12.6 -0.72
12.8 -0.79
12.6 -0.80
12.8 0.12
12.6 -0.14
12.7 0.36
12.8 -0.48
12.4 0.47
13.0 0.41
12.7 0.35
12.4 0.29
13.0 0.23
12.7 0.17
12.4 0.11
13.0 0.05
12.7 -0.01
12.4 -0.07
13.0 -0.13
12.7 -0.19
12.4 -0.25
13.0 -0.31
12.7 -0.37
12.4 -0.43
13.0 -0.50
12.7 -0.56
15.3 0.77
15.0 0.48
15.2 0.44
14.9 0.40
15.3 0.35
15.1 0.31
14.8 0.27
15.2 0.22
15.0 0.18
15.3 0.13
14.9 0.09
15.1 0.05
15.2 0.00
14.8 -0.04
15.0 -0.08
15.3 -0.12
15.1 -0.17
14.9 -0.21
15.2 -0.26
15.0 -0.30
14.8 -0.35
15.3 -0.39
15.1 -0.44
14.9 -0.48
15.0 -0.52
15.2 0.26
15.1 -0.02
14.9 0.15
15.0 -0.24
15.2 0.38
14.8 0.46
15.4 0.41
15.1 0.36
14.8 0.31
15.4 0.26
15.1 0.21
14.8 0.16
15.4 0.11
15.1 0.06
14.8 0.01
15.4 -0.04
15.1 -0.09
14.8 -0.14
15.4 -0.19
15.1 -0.24
14.8 -0.29
15.4 -0.34
15.1 -0.39
14.8 -0.44
15.4 -0.49
16.9 0.58
16.6 0.50
17.0 0.45
16.7 0.41
16.5 0.37
16.9 0.33
16.8 0.29
16.6 0.25
17.0 0.21
16.7 0.17
16.5 0.13
16.9 0.09
16.8 0.05
16.6 0.01
17.0 -0.03
16.7 -0.07
16.5 -0.11
16.9 -0.15
16.8 -0.19
16.6 -0.23
17.0 -0.27
16.7 -0.31
16.5 -0.35
16.9 -0.39
16.8 -0.43
16.6 -0.47
16.7 -0.50
16.8 0.35
16.6 0.10
16.9 -0.05
16.7 -0.20
16.8 0.22
16.6 -0.38
17.0 0.03
16.5 0.30
16.4 0.55
17.1 0.48
16.75 0.43
16.4 0.38
17.1 0.33
16.75 0.28
16.4 0.23
17.1 0.18
16.75 0.13
16.4 0.08
17.1 0.03
16.75 -0.02
16.4 -0.07
17.1 -0.12
16.75 -0.17
16.4 -0.22
17.1 -0.27
16.75 -0.32
16.4 -0.37
17.1 -0.42
16.75 -0.46
16.4 -0.49
18.3 0.70
18.1 0.57
18.4 0.55
18.0 0.50
18.2 0.45
18.5 0.40
18.1 0.35
18.3 0.30
17.9 0.25
18.2 0.20
18.4 0.15
18.0 0.10
18.3 0.05
18.1 0.00
18.5 -0.05
18.2 -0.10
17.9 -0.15
18.4 -0.20
18.1 -0.25
18.3 -0.30
18.0 -0.35
18.2 -0.40
18.4 -0.45
18.1 -0.50
18.3 -0.55
18.4 -0.58
18.2 -0.73
18.3 -0.78
18.5 -0.80
18.2 0.28
18.0 -0.20
18.4 0.02
18.1 -0.08
18.3 0.38
18.2 -0.30
17.9 0.52
18.5 0.47
18.2 0.42
17.9 0.37
18.5 0.32
18.2 0.27
17.9 0.22
18.5 0.17
18.2 0.12
17.9 0.07
18.5 0.02
18.2 -0.03
17.9 -0.08
18.5 -0.13
18.2 -0.18
17.9 -0.23
18.5 -0.28
18.2 -0.33
17.9 -0.38
18.5 -0.43
18.2 -0.48
17.9 -0.53
19.8 0.87
20.0 0.50
19.8 0.45
20.1 0.38
19.9 0.30
20.0 0.22
19.8 0.15
20.1 0.08
19.9 0.00
20.0 -0.08
19.8 -0.15
20.1 -0.22
19.9 -0.30
20.0 -0.38
19.8 -0.42
20.1 -0.48
19.9 -0.55
20.0 -0.58
19.9 0.12
20.0 -0.18
19.7 0.42
20.2 0.34
19.7 0.26
20.2 0.18
19.7 0.04
20.2 -0.04
19.7 -0.12
20.2 -0.26
19.7 -0.34
20.2 -0.45
26.8 0.86
26.4 0.64
26.3 0.60
26.6 0.50
26.5 0.46
26.7 0.42
26.4 0.38
26.6 0.33
26.3 0.28
26.5 0.24
26.7 0.19
26.4 0.14
26.6 0.10
26.5 0.05
26.3 0.00
26.7 -0.05
26.4 -0.10
26.6 -0.15
26.5 -0.20
26.3 -0.25
26.7 -0.30
26.4 -0.35
26.6 -0.40
26.5 -0.43
26.7 -0.47
26.3 -0.55
26.5 -0.56
26.6 0.02
26.4 -0.22
26.5 0.30
26.2 0.55
26.8 0.48
26.5 0.44
26.2 0.40
26.8 0.35
26.5 0.31
26.2 0.26
26.8 0.21
26.5 0.16
26.2 0.12
26.8 0.07
26.5 0.02
26.2 -0.02
26.8 -0.07
26.5 -0.12
26.2 -0.17
26.8 -0.23
26.5 -0.28
26.2 -0.38
26.8 -0.45
30.1 0.53
29.9 0.50
30.3 0.46
30.0 0.42
30.2 0.38
30.4 0.34
29.9 0.30
30.1 0.26
30.3 0.22
30.0 0.18
30.2 0.14
30.4 0.10
29.9 0.06
30.1 0.02
30.3 -0.02
30.0 -0.06
30.2 -0.10
30.4 -0.14
29.9 -0.18
30.1 -0.22
30.3 -0.26
30.0 -0.30
30.2 -0.34
30.4 -0.38
30.1 -0.42
30.3 -0.46
30.2 -0.50
30.5 -0.57
30.0 0.00
30.2 0.28
30.1 -0.15
30.3 0.08
29.9 0.50
30.5 0.44
30.2 0.40
29.9 0.36
30.5 0.32
30.2 0.28
29.9 0.24
30.5 0.20
30.2 0.16
29.9 0.12
30.5 0.04
30.2 -0.04
29.9 -0.08
30.5 -0.12
30.2 -0.16
29.9 -0.20
30.5 -0.24
30.2 -0.28
29.9 -0.32
30.5 -0.36
30.2 -0.40
29.9 -0.44
46.0 0.83
45.8 0.56
45.7 0.48
45.5 0.43
45.9 0.40
45.6 0.37
45.8 0.34
46.0 0.30
45.5 0.27
45.7 0.24
45.9 0.21
45.6 0.18
45.8 0.15
46.0 0.12
45.5 0.09
45.7 0.06
45.9 0.03
45.6 0.00
45.8 -0.03
46.0 -0.06
45.5 -0.09
45.7 -0.12
45.9 -0.15
45.6 -0.18
45.8 -0.21
46.0 -0.24
45.5 -0.27
45.7 -0.30
45.9 -0.33
45.6 -0.36
45.8 -0.40
45.7 -0.44
45.9 -0.48
45.6 -0.55
45.7 -0.60
45.8 -0.64
45.7 -0.68
45.8 0.05
45.6 -0.25
45.9 0.28
45.4 0.45
46.0 0.41
45.7 0.38
45.4 0.35
46.0 0.32
45.7 0.29
45.4 0.26
46.0 0.22
45.7 0.19
45.4 0.16
46.0 0.13
45.7 0.10
45.4 0.07
46.0 0.04
45.7 0.01
45.4 -0.02
46.0 -0.05
45.7 -0.08
45.4 -0.11
46.0 -0.14
45.7 -0.17
45.4 -0.20
46.0 -0.23
45.7 -0.28
45.4 -0.32
46.0 -0.37
45.7 -0.42
45.4 -0.51
}\br
\begin{document}
\begin{tikzpicture}
\useasboundingbox (0,0) rectangle (837bp,725bp);
% (a)
\begin{axis}[panel, at={(107bp,455bp)}, anchor=south west, width=298bp, height=241bp,
  xmin=2.05, xmax=4.92, ymin=1.636, ymax=5.01,
  xtick={2.5,3,3.5,4,4.5}, xticklabels={2.5,3.0,3.5,4.0,4.5},
  ytick={2,2.5,3,3.5,4,4.5,5}, yticklabels={2.0,2.5,3.0,3.5,4.0,4.5,5.0},
  xlabel={Predicted log\textsubscript{e} growth rate},
  ylabel={Observed log\textsubscript{e} growth rate},
  ylabel style={at={(axis description cs:-0.252,0.5)}}]
\addplot[pts] table[x=p, y expr=\thisrow{p}+\thisrow{r}] {\pr};
\addplot[zline] coordinates {(2.05,2.05) (4.92,4.92)};
\node[tag] at (rel axis cs:0.03,0.965) {(a)};
\end{axis}
% (b)
\begin{axis}[panel, at={(537bp,455bp)}, anchor=south west, width=296bp, height=240bp,
  xmin=2.04, xmax=4.91, ymin=-1.02, ymax=1.02,
  xtick={2.5,3,3.5,4,4.5}, xticklabels={2.5,3.0,3.5,4.0,4.5},
  ytick={-1,-0.5,0,0.5,1}, yticklabels={−1.0,−0.5,0.0,0.5,1.0},
  xlabel={Predicted log\textsubscript{e} growth rate},
  ylabel={Model residual},
  xlabel style={at={(axis description cs:0.52,-0.27)}},
  ylabel style={at={(axis description cs:-0.243,0.5)}}]
\addplot[pts] table[x=p, y=r] {\pr};
\addplot[zline] coordinates {(2.04,0) (4.91,0)};
\node[tag] at (rel axis cs:0.024,0.97) {(b)};
\end{axis}
% (c)
\begin{axis}[panel, at={(107bp,90bp)}, anchor=south west, width=297bp, height=242bp,
  xmin=-1.392, xmax=0.753, ymin=-1.03, ymax=1.02,
  xtick={-1,-0.5,0,0.5}, xticklabels={−1.0,−0.5,0.0,0.5},
  ytick={-1,-0.5,0,0.5,1}, yticklabels={−1.0,−0.5,0.0,0.5,1.0},
  xlabel={Centered\\fish length (log\textsubscript{e} mm)},
  ylabel={Model residual},
  xlabel style={align=center, anchor=north, at={(axis description cs:0.5,-0.155)}},
  ylabel style={at={(axis description cs:-0.249,0.5)}}]
\addplot[pts] table[x=L, y=r] {\lr};
\addplot[zline] coordinates {(-1.392,0) (0.753,0)};
\node[tag] at (rel axis cs:0.027,0.957) {(c)};
\end{axis}
% (d)
\begin{axis}[panel, at={(537bp,90bp)}, anchor=south west, width=298bp, height=242bp,
  xmin=-2.08, xmax=48.34, ymin=-1.03, ymax=1.02,
  xtick={0,10,20,30,40}, xticklabels={0,10,20,30,40},
  ytick={-1,-0.5,0,0.5,1}, yticklabels={−1.0,−0.5,0.0,0.5,1.0},
  xlabel={Building density (no.\ km\textsuperscript{−1})},
  ylabel={Model residual},
  xlabel style={at={(axis description cs:0.487,-0.26)}},
  ylabel style={at={(axis description cs:-0.243,0.5)}}]
\addplot[pts] table[x=b, y=r] {\br};
\addplot[zline] coordinates {(-2.08,0) (48.34,0)};
\node[tag] at (rel axis cs:0.016,0.964) {(d)};
\end{axis}
\end{tikzpicture}
\end{document}
